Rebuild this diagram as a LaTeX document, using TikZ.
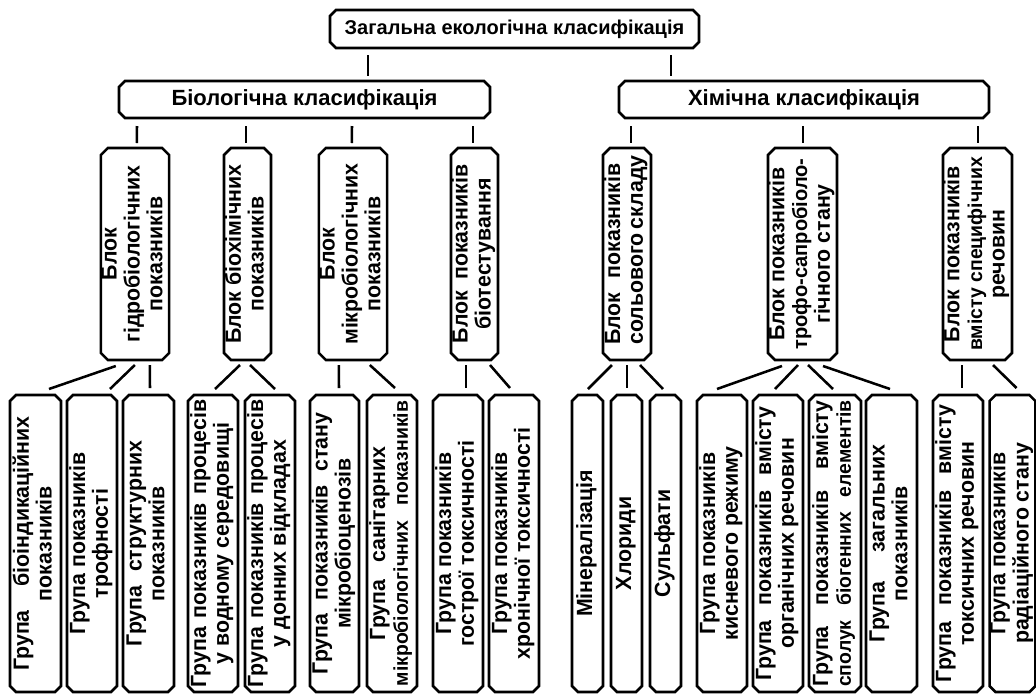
\documentclass[tikz,border=0pt]{standalone}
\usepackage{fontspec}
\usepackage{graphicx}
\setmainfont{Liberation Sans}
\newfontfamily\vfont{Liberation Sans}[FakeStretch=0.97]
\usetikzlibrary{calc}
\tikzset{
  boxline/.style={line width=1.9pt, line join=miter},
  conn/.style={line width=1.9pt},
  bx/.style={inner sep=0pt, outer sep=0pt, draw=none, anchor=center, font=\vfont\bfseries\fontsize{16.5}{17}\selectfont},
  hz/.style={font=\bfseries\fontsize{16.5}{17}\selectfont},
  ttl/.style={font=\bfseries\fontsize{15}{17}\selectfont},
}
\newcommand\vt[1]{\rotatebox{90}{\begin{tabular}{@{}c@{}}#1\end{tabular}}}
\newcommand\sx[2]{\makebox[#1][s]{#2}}
\newcommand\sm{\fontsize{15}{17}\selectfont}
\newcommand\md{\fontsize{15.5}{17}\selectfont}
\newcommand\cbox[8][]{%
  \node[bx,#1, minimum width={(#5-#3)*0.75pt}, minimum height={(#6-#4)*0.75pt}] (#2) at ({(#3+#5)/2},{(#4+#6)/2}) {#8};
  \draw[boxline] ([xshift=#7]#2.north west) -- ([xshift=-#7]#2.north east) -- ([yshift=-#7]#2.north east) -- ([yshift=#7]#2.south east) -- ([xshift=-#7]#2.south east) -- ([xshift=#7]#2.south west) -- ([yshift=#7]#2.south west) -- ([yshift=-#7]#2.north west) -- cycle;
}
\begin{document}
\begin{tikzpicture}[x=0.75pt,y=-0.75pt]
\useasboundingbox (0,0) rectangle (1036,694);
% top levels
\cbox[ttl]{top}{330}{10}{699}{48}{4.5pt}{Загальна екологічна класифікація}
\cbox[hz]{bio}{119}{81}{490}{118}{4.5pt}{Біологічна класифікація}
\cbox[hz]{chem}{619}{81}{989}{118}{4.5pt}{Хімічна класифікація}
% blocks
\cbox{B1}{101}{148}{169}{360}{5.25pt}{\vt{Блок\\гідробіологічних\\показників}}
\cbox{B2}{224}{148}{271}{360}{5.25pt}{\vt{Блок біохімічних\\показників}}
\cbox{B3}{319}{148}{387}{360}{5.25pt}{\vt{Блок\\мікробіологічних\\показників}}
\cbox{B4}{451}{148}{498}{360}{5.25pt}{\vt{\sx{134pt}{Блок показників}\\біотестування}}
\cbox{B5}{603}{148}{651}{360}{5.25pt}{\vt{\sx{136pt}{Блок показників}\\\sx{136pt}{сольового складу}}}
\cbox{B6}{768}{148}{837}{360}{5.25pt}{\vt{Блок показників\\{\md трофо-сапробіоло-}\\гічного стану}}
\cbox{B7}{943}{148}{1012}{360}{5.25pt}{\vt{\sx{132pt}{Блок показників}\\{\sm вмісту специфічних}\\речовин}}
% groups
\cbox{G1}{10}{395}{61}{692}{4.5pt}{\vt{\sx{191pt}{Група біоіндикаційних}\\показників}}
\cbox{G2}{67}{395}{117}{692}{4.5pt}{\vt{Група показників\\трофності}}
\cbox{G3}{123}{395}{174}{692}{4.5pt}{\vt{\sx{154pt}{Група структурних}\\показників}}
\cbox{G4}{188}{395}{238}{692}{4.5pt}{\vt{\sx{216pt}{Група показників процесів}\\у водному середовищі}}
\cbox{G5}{245}{395}{295}{692}{4.5pt}{\vt{\sx{216pt}{Група показників процесів}\\у донних відкладах}}
\cbox{G6}{310}{395}{359}{692}{4.5pt}{\vt{\sx{196pt}{Група показників стану}\\мікробіоценозів}}
\cbox{G7}{367}{395}{417}{692}{4.5pt}{\vt{\sx{145pt}{Група санітарних}\\\sx{214pt}{\sm мікробіологічних показників}}}
\cbox{G8}{433}{395}{483}{692}{4.5pt}{\vt{Група показників\\гострої токсичності}}
\cbox{G9}{489}{395}{539}{692}{4.5pt}{\vt{Група показників\\хронічної токсичності}}
\cbox{G10}{572}{395}{603}{692}{4.5pt}{\vt{Мінералізація}}
\cbox{G11}{611}{395}{642}{692}{4.5pt}{\vt{Хлориди}}
\cbox{G12}{650}{395}{681}{692}{4.5pt}{\vt{Сульфати}}
\cbox{G13}{697}{395}{747}{692}{4.5pt}{\vt{Група показників\\кисневого режиму}}
\cbox{G14}{753}{395}{803}{692}{4.5pt}{\vt{\sx{206pt}{Група показників вмісту}\\органічних речовин}}
\cbox{G15}{809}{395}{861}{692}{4.5pt}{\vt{\sx{215pt}{Група показників вмісту}\\\sx{215pt}{\sm сполук біогенних елементів}}}
\cbox{G16}{866}{395}{917}{692}{4.5pt}{\vt{\sx{148pt}{Група загальних}\\показників}}
\cbox{G17}{933}{395}{983}{692}{4.5pt}{\vt{\sx{208pt}{Група показників вмісту}\\токсичних речовин}}
\cbox{G18}{990}{395}{1035}{692}{4.5pt}{\vt{Група показників\\радіаційного стану}}
% connectors
\draw[conn] ($(top.south west)+(38,7)$) -- ($(bio.north west)+(249,-5)$);
\draw[conn] ($(top.south west)+(341,7)$) -- ($(chem.north west)+(52,-5)$);
\draw[conn] ($(bio.south west)+(18,8)$) -- ($(B1.north west)+(36,-5)$);
\draw[conn] ($(bio.south west)+(127,8)$) -- ($(B2.north west)+(22,-5)$);
\draw[conn] ($(bio.south west)+(233,8)$) -- ($(B3.north west)+(33,-5)$);
\draw[conn] ($(bio.south west)+(354,8)$) -- ($(B4.north west)+(22,-5)$);
\draw[conn] ($(chem.south west)+(12,8)$) -- ($(B5.north west)+(28,-5)$);
\draw[conn] ($(chem.south west)+(184,8)$) -- ($(B6.north west)+(35,-5)$);
\draw[conn] ($(chem.south west)+(359,8)$) -- ($(B7.north west)+(35,-5)$);
\draw[conn] ($(B1.south west)+(15,6)$) -- ($(G1.north west)+(39,-6)$);
\draw[conn] ($(B1.south west)+(34,5)$) -- ($(G2.north west)+(43,-6)$);
\draw[conn] ($(B1.south west)+(49,5)$) -- ($(G3.north west)+(27,-7)$);
\draw[conn] ($(B2.south west)+(16,5)$) -- ($(G4.north west)+(27,-6)$);
\draw[conn] ($(B2.south west)+(26,5)$) -- ($(G5.north west)+(30,-6)$);
\draw[conn] ($(B3.south west)+(20,5)$) -- ($(G6.north west)+(29,-7)$);
\draw[conn] ($(B3.south west)+(51,5)$) -- ($(G7.north west)+(28,-7)$);
\draw[conn] ($(B4.south west)+(15,5)$) -- ($(G8.north west)+(33,-7)$);
\draw[conn] ($(B4.south west)+(39,5)$) -- ($(G9.north west)+(21,-7)$);
\draw[conn] ($(B5.south west)+(9,5)$) -- ($(G10.north west)+(16,-6)$);
\draw[conn] ($(B5.south west)+(24,5)$) -- ($(G11.north west)+(16,-7)$);
\draw[conn] ($(B5.south west)+(37,5)$) -- ($(G12.north west)+(13,-6)$);
\draw[conn] ($(B6.south west)+(14,6)$) -- ($(G13.north west)+(20,-6)$);
\draw[conn] ($(B6.south west)+(30,5)$) -- ($(G14.north west)+(22,-6)$);
\draw[conn] ($(B6.south west)+(40,5)$) -- ($(G15.north west)+(24,-6)$);
\draw[conn] ($(B6.south west)+(55,6)$) -- ($(G16.north west)+(24,-6)$);
\draw[conn] ($(B7.south west)+(19,5)$) -- ($(G17.north west)+(29,-7)$);
\draw[conn] ($(B7.south west)+(50,5)$) -- ($(G18.north west)+(27,-7)$);
\end{tikzpicture}
\end{document}
